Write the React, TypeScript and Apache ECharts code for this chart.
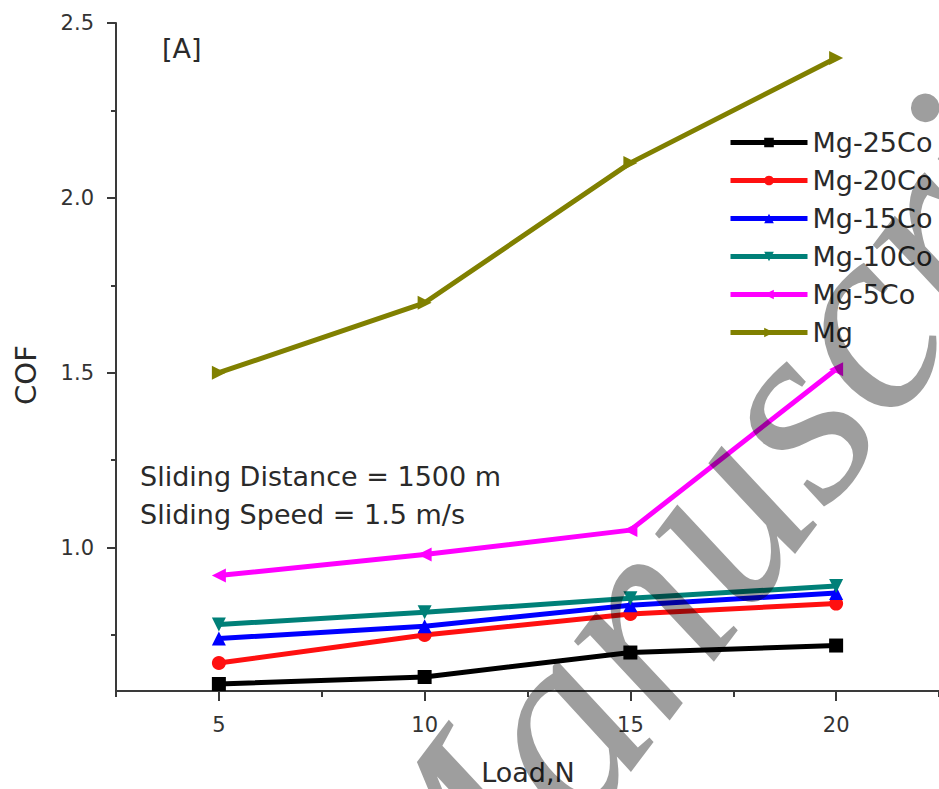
import React, { useEffect, useRef } from "react";
import * as echarts from "echarts";

const loads = [5, 10, 15, 20];
const seriesNames = ["Mg-25Co", "Mg-20Co", "Mg-15Co", "Mg-10Co", "Mg-5Co", "Mg"];
const mg25Co = [0.61, 0.63, 0.7, 0.72];
const mg20Co = [0.67, 0.75, 0.81, 0.84];
const mg15Co = [0.74, 0.775, 0.835, 0.87];
const mg10Co = [0.78, 0.815, 0.855, 0.89];
const mg5Co = [0.92, 0.98, 1.05, 1.51];
const mgPure = [1.5, 1.7, 2.1, 2.4];
const xMajorTicks = [5, 10, 15, 20];
const xMinorTicks = [2.5, 7.5, 12.5, 17.5, 22.5];
const yMajorTicks = [1.0, 1.5, 2.0, 2.5];
const yMinorTicks = [0.75, 1.25, 1.75, 2.25];

const FONT = "DejaVu Sans";

export default function App() {
  const ref = useRef<HTMLDivElement>(null);
  useEffect(() => {
    if (!ref.current) return;
    const chart = echarts.init(ref.current, null, { renderer: "svg" });
    const values = [mg25Co, mg20Co, mg15Co, mg10Co, mg5Co, mgPure];
    const colors = ["#000000", "#ff1010", "#0000ff", "#008078", "#ff00ff", "#808000"];
    const symbols = ["rect", "circle", "triangle", "triangle", "triangle", "triangle"];
    const rotates = [0, 0, 0, 180, 90, -90];
    const series = seriesNames.map((name, i) => ({
      name,
      type: "line",
      xAxisIndex: 0,
      yAxisIndex: 0,
      data: loads.map((x, j) => [x, values[i][j]]),
      symbol: symbols[i],
      symbolRotate: rotates[i],
      symbolSize: 14,
      lineStyle: { width: 5, color: colors[i] },
      itemStyle: { color: colors[i] },
      z: 2 + i,
    }));
    const axisLineStyle = { color: "#3a3a3a", width: 2 };
    chart.setOption({
      animation: false,
      backgroundColor: "#ffffff",
      grid: { left: 116, top: 23, right: 0, bottom: 98, outerBoundsMode: "none", containLabel: false },
      xAxis: [
        {
          type: "value",
          position: "bottom",
          min: 2.5,
          max: 22.5,
          axisLine: { show: true, lineStyle: axisLineStyle },
          axisTick: { show: true, customValues: xMajorTicks, length: 10, lineStyle: axisLineStyle },
          axisLabel: { customValues: xMajorTicks, margin: 23, fontSize: 21, fontFamily: FONT, color: "#333" },
          splitLine: { show: false },
        },
        {
          type: "value",
          position: "bottom",
          min: 2.5,
          max: 22.5,
          axisLine: { show: false },
          axisTick: { show: true, customValues: xMinorTicks, length: 6, lineStyle: axisLineStyle },
          axisLabel: { show: false },
          splitLine: { show: false },
        },
      ],
      yAxis: [
        {
          type: "value",
          position: "left",
          min: 0.59,
          max: 2.5,
          axisLine: { show: true, lineStyle: axisLineStyle },
          axisTick: { show: true, customValues: yMajorTicks, length: 9, lineStyle: axisLineStyle },
          axisLabel: {
            customValues: yMajorTicks,
            margin: 22,
            fontSize: 21,
            fontFamily: FONT,
            color: "#333",
            formatter: (v: number) => v.toFixed(1),
          },
          splitLine: { show: false },
        },
        {
          type: "value",
          position: "left",
          min: 0.59,
          max: 2.5,
          axisLine: { show: false },
          axisTick: { show: true, customValues: yMinorTicks, length: 5, lineStyle: axisLineStyle },
          axisLabel: { show: false },
          splitLine: { show: false },
        },
      ],
      legend: {
        orient: "vertical",
        left: 723,
        top: 124,
        itemWidth: 77,
        itemHeight: 12,
        itemGap: 11,
        data: seriesNames,
        lineStyle: { width: 5 },
        textStyle: { fontSize: 27, fontFamily: FONT, color: "#2a2a2a", lineHeight: 27 },
      },
      series,
      graphic: [
        {
          type: "text",
          x: 162,
          y: 48,
          style: { text: "[A]", fontSize: 27, fontFamily: FONT, fill: "#2a2a2a", verticalAlign: "middle", align: "left" },
        },
        {
          type: "text",
          x: 140,
          y: 476,
          style: { text: "Sliding Distance = 1500 m", fontSize: 27, fontFamily: FONT, fill: "#2a2a2a", verticalAlign: "middle", align: "left" },
        },
        {
          type: "text",
          x: 140,
          y: 514,
          style: { text: "Sliding Speed = 1.5 m/s", fontSize: 27, fontFamily: FONT, fill: "#2a2a2a", verticalAlign: "middle", align: "left" },
        },
        {
          type: "text",
          x: 26,
          y: 375,
          rotation: Math.PI / 2,
          style: { text: "COF", fontSize: 29, fontFamily: FONT, fill: "#2a2a2a", verticalAlign: "middle", align: "center" },
        },
        {
          type: "text",
          x: 528,
          y: 772,
          style: { text: "Load,N", fontSize: 27, fontFamily: FONT, fill: "#2a2a2a", verticalAlign: "middle", align: "center" },
        },
        {
          type: "text",
          x: 482,
          y: 1042,
          rotation: (53 * Math.PI) / 180,
          z: 100,
          style: {
            text: "Manuscript",
            fontSize: 270,
            fontFamily: "Liberation Serif",
            fontStyle: "italic",
            fill: "rgba(0,0,0,0.38)",
            verticalAlign: "bottom",
            align: "left",
          },
        },
      ],
    });
    return () => chart.dispose();
  }, []);
  return <div ref={ref} style={{ position: "fixed", left: 0, top: 0, width: 939, height: 789 }} />;
}
